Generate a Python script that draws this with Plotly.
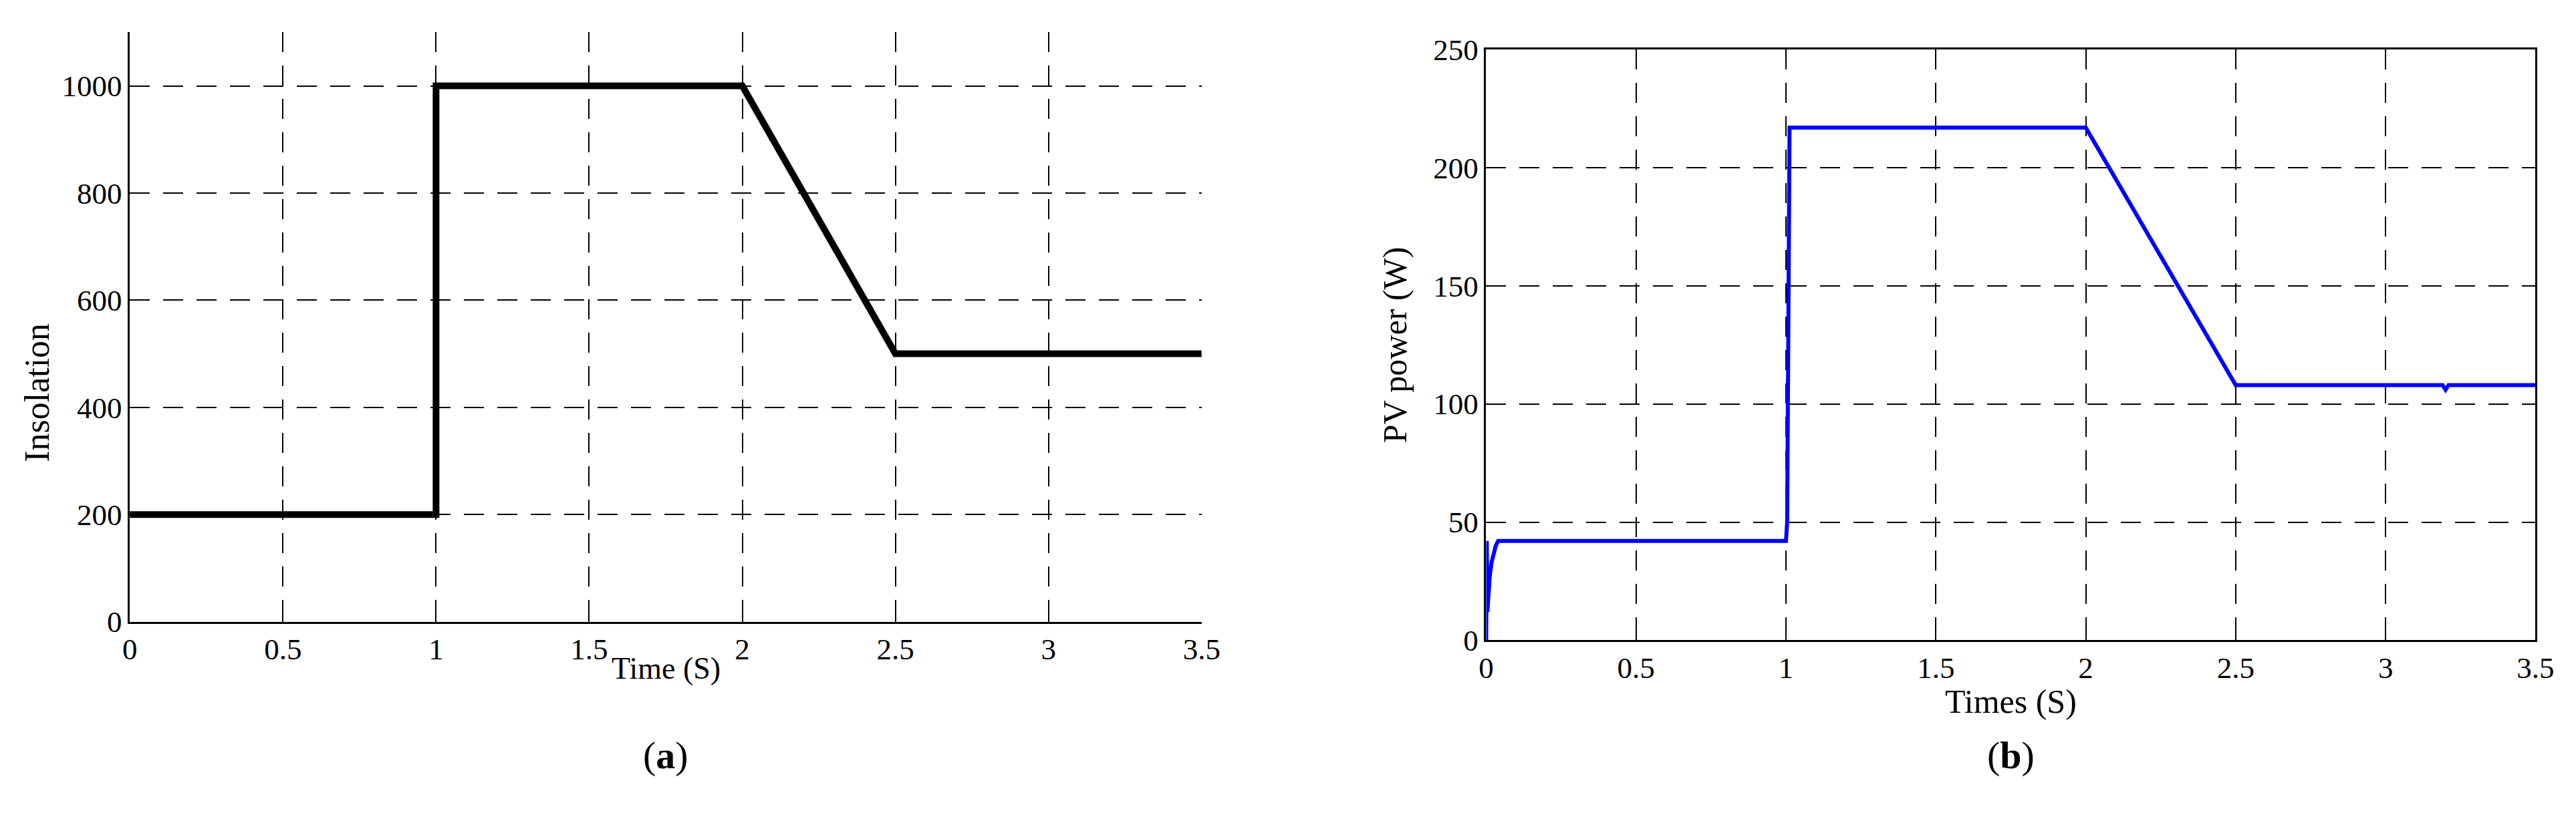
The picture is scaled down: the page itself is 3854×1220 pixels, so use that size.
import plotly.graph_objects as go

# (a) insolation profile
time_a = [0, 1.0, 1.0, 2.0, 2.5, 3.5]
insolation = [200, 200, 1000, 1000, 500, 500]

# (b) PV power response
time_b = [0, 0.002, 0.004, 0.008, 0.012, 0.018, 0.025, 0.032, 0.04, 1.0, 1.004, 1.008, 1.012,
          2.0, 2.5, 3.19, 3.2, 3.21, 3.5]
pv_power = [0, 42, 12, 20, 27, 33, 37, 40, 42, 42, 50, 185, 217,
            217, 108, 108, 106, 108, 108]

x_ticks = [0, 0.5, 1, 1.5, 2, 2.5, 3, 3.5]
x_labels = ['0', '0.5', '1', '1.5', '2', '2.5', '3', '3.5']

W, H = 3854, 1220
FONT = 'Liberation Serif'
grid_dash = '30px,20px'

fig = go.Figure()
fig.add_trace(go.Scatter(x=time_a, y=insolation, mode='lines',
                         line=dict(color='black', width=10), xaxis='x', yaxis='y'))
fig.add_trace(go.Scatter(x=time_b, y=pv_power, mode='lines',
                         line=dict(color='#0000ff', width=6), xaxis='x2', yaxis='y2'))

axis_common = dict(
    showgrid=True, gridcolor='black', gridwidth=1.5, griddash=grid_dash,
    showline=True, linecolor='black', linewidth=2.5,
    ticks='inside', ticklen=10, tickcolor='black', tickwidth=1.5,
    zeroline=False, tickfont=dict(family=FONT, size=45, color='black'),
)

fig.update_layout(
    width=W, height=H,
    margin=dict(l=0, r=0, t=0, b=0),
    paper_bgcolor='white', plot_bgcolor='white',
    showlegend=False,
    xaxis=dict(domain=[177 / W, 1797 / W], range=[0, 3.5], tickvals=x_ticks,
               ticktext=x_labels, anchor='y', **axis_common),
    yaxis=dict(domain=[1 - 937 / H, 1 - 17 / H], range=[0, 1100],
               tickvals=[0, 200, 400, 600, 800, 1000], anchor='x', **axis_common),
    xaxis2=dict(domain=[2227 / W, 3813 / W], range=[0, 3.5], tickvals=x_ticks,
                ticktext=x_labels, anchor='y2', mirror=True, **axis_common),
    yaxis2=dict(domain=[1 - 966 / H, 1 - 44 / H], range=[0, 250],
                tickvals=[0, 50, 100, 150, 200, 250], anchor='x2', mirror=True,
                **axis_common),
)

annotations = [
    dict(text='Insolation', x=37 / W, y=1 - 580 / H, textangle=-90, font_size=52),
    dict(text='Time (S)', x=987 / W, y=1 - 1010 / H, font_size=46),
    dict(text='(<b>a</b>)', x=987 / W, y=1 - 1145 / H, font_size=58),
    dict(text='PV power (W)', x=2089 / W, y=1 - 505 / H, textangle=-90, font_size=50),
    dict(text='Times (S)', x=3020 / W, y=1 - 1061 / H, font_size=50),
    dict(text='(<b>b</b>)', x=3020 / W, y=1 - 1145 / H, font_size=58),
]
for a in annotations:
    fig.add_annotation(xref='paper', yref='paper', showarrow=False,
                       xanchor='center', yanchor='middle',
                       font=dict(family=FONT, color='black', size=a.pop('font_size')), **a)

fig.write_html("out.html")
